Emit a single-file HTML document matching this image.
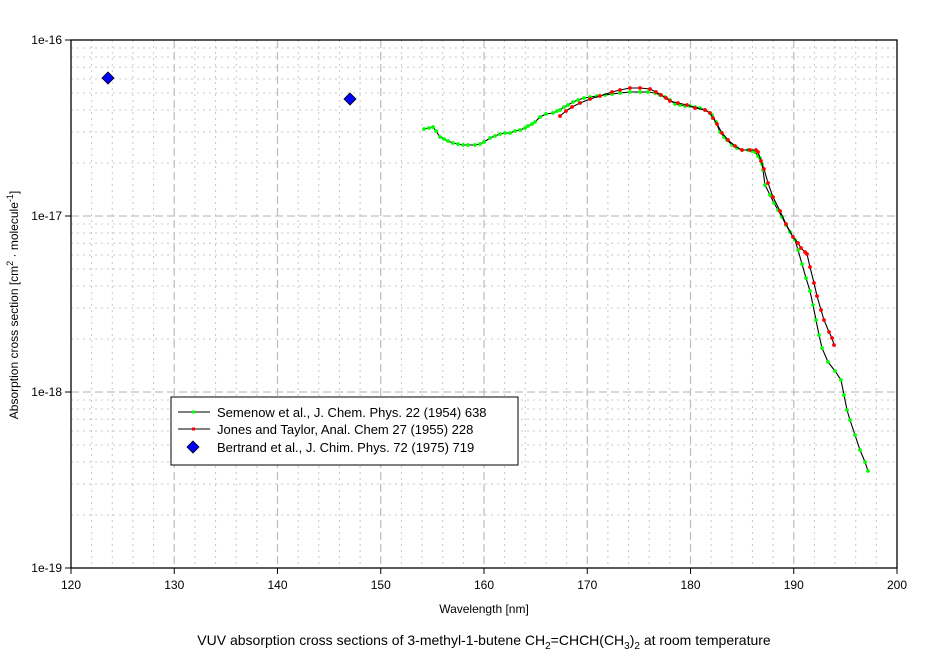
<!DOCTYPE html>
<html><head><meta charset="utf-8"><style>
body{margin:0;background:#fff;}
svg{display:block;font-family:"Liberation Sans",Arial,sans-serif;}
</style></head><body>
<svg id="s" width="937" height="659" viewBox="0 0 937 659" xmlns="http://www.w3.org/2000/svg">
<g id="grid"></g>
<rect x="71" y="40" width="826" height="528" fill="none" stroke="#000" stroke-width="1.3"/>
<g id="ticks" font-size="12" fill="#000"></g>
<g id="data"></g>
<polygon points="108,72 114,78 108,84 102,78" fill="#0000ff" stroke="#000" stroke-width="0.8"/>
<polygon points="350,93 356,99 350,105 344,99" fill="#0000ff" stroke="#000" stroke-width="0.8"/>
<rect x="171" y="397" width="347" height="68" fill="#fff" stroke="#000" stroke-width="1"/>
<line x1="178" y1="412" x2="210" y2="412" stroke="#000"/><rect x="192" y="410.5" width="3" height="3" fill="#00ff00"/>
<line x1="178" y1="429" x2="210" y2="429" stroke="#000"/><rect x="192" y="427.5" width="3" height="3" fill="#ff0000"/>
<polygon points="193,441 199,447 193,453 187,447" fill="#0000ff" stroke="#000" stroke-width="0.8"/>
<g font-size="13">
<text x="217" y="417">Semenow et al., J. Chem. Phys. 22 (1954) 638</text>
<text x="217" y="434">Jones and Taylor, Anal. Chem 27 (1955) 228</text>
<text x="217" y="452">Bertrand et al., J. Chim. Phys. 72 (1975) 719</text>
</g>
<text x="484" y="613" font-size="12" text-anchor="middle">Wavelength [nm]</text>
<text x="484" y="645" font-size="14" text-anchor="middle">VUV absorption cross sections of 3-methyl-1-butene CH<tspan font-size="10" dy="4">2</tspan><tspan dy="-4">=CHCH(CH</tspan><tspan font-size="10" dy="4">3</tspan><tspan dy="-4">)</tspan><tspan font-size="10" dy="4">2</tspan><tspan dy="-4"> at room temperature</tspan></text>
<text transform="translate(18,305) rotate(-90)" font-size="12" text-anchor="middle">Absorption cross section [cm<tspan font-size="9" dy="-5">2</tspan><tspan dy="5"> · molecule</tspan><tspan font-size="9" dy="-5">-1</tspan><tspan dy="5">]</tspan></text>
</svg>
<script>
const NS="http://www.w3.org/2000/svg";
function el(p,t,a,txt){const e=document.createElementNS(NS,t);for(const k in a)e.setAttribute(k,a[k]);if(txt!==undefined)e.textContent=txt;p.appendChild(e);return e;}
const g=document.getElementById('grid'),tk=document.getElementById('ticks'),d=document.getElementById('data');
const X=v=>71+(v-120)*826/80, Y0=40, D=176;
for(let v=122;v<200;v+=2){const x=X(v);const maj=v%10==0;
 el(g,'line',{x1:x,y1:40,x2:x,y2:568,stroke:maj?'#c0c0c0':'#c8c8c8','stroke-width':maj?1.3:1,'stroke-dasharray':maj?'8,4':'2,4'});}
for(let dec=0;dec<3;dec++){for(let m=1;m<=9;m++){const y=Y0+D*(dec+1)-D*Math.log10(m);if(m==1&&dec==2)continue;
 const maj=m==1;if(maj&&dec<0)continue;
 el(g,'line',{x1:71,y1:y,x2:897,y2:y,stroke:maj?'#c0c0c0':'#c8c8c8','stroke-width':maj?1.3:1,'stroke-dasharray':maj?'8,4':'2,4'});}}
for(let v=120;v<=200;v+=10){const x=X(v);el(tk,'line',{x1:x,y1:568,x2:x,y2:574,stroke:'#000'});el(tk,'text',{x:x,y:589,'text-anchor':'middle'},v);}
['1e-16','1e-17','1e-18','1e-19'].forEach((l,i)=>{const y=Y0+D*i;el(tk,'line',{x1:65,y1:y,x2:71,y2:y,stroke:'#000'});el(tk,'text',{x:62,y:y+4,'text-anchor':'end'},l);});
const green=[[424,129],[429,128],[433,127],[436,131],[440,137],[444,139],[448,141],[453,143],[458,144],[463,145],[468,145],[475,145],[480,144],[484,142],[490,138],[495,136],[500,134],[505,133],[510,133],[515,131],[520,130],[525,128],[528,126],[532,124],[535,122],[540,117],[546,114],[553,113],[557,111],[560,110],[564,107],[568,105],[573,102],[578,100],[584,98],[590,97],[597,96],[605,95],[612,94],[620,93],[630,92],[640,92],[648,92],[655,93],[660,95],[665,97],[670,100],[675,104],[680,105],[685,106],[690,106],[695,107],[700,108],[705,110],[710,113],[712,115],[716,122],[720,132],[724,137],[727,140],[732,145],[737,148],[742,150],[748,150],[752,151],[755,152],[758,156],[760,158],[762,164],[763,170],[765,185],[770,195],[774,203],[778,210],[782,217],[786,225],[790,232],[795,240],[798,250],[802,264],[806,278],[810,291],[813,305],[816,320],[819,335],[822,348],[828,362],[835,371],[841,380],[844,395],[847,410],[850,420],[855,435],[860,450],[865,462],[868,471]];
const red=[[560,116],[566,111],[572,107],[580,103],[590,99],[600,96],[612,92],[620,90],[630,88],[640,88],[650,89],[656,92],[661,95],[666,98],[670,101],[678,103],[687,105],[695,108],[705,110],[710,113],[713,118],[717,124],[722,133],[728,140],[735,146],[742,150],[750,150],[756,150],[758,152],[761,161],[764,169],[768,183],[773,197],[780,211],[786,224],[793,237],[798,243],[801,248],[805,252],[807,254],[810,267],[814,283],[817,296],[821,310],[824,320],[829,332],[832,338],[834,345]];
function series(pts,col){el(d,'polyline',{points:pts.map(p=>p.join(',')).join(' '),fill:'none',stroke:'#000','stroke-width':1.1});
 pts.forEach(p=>el(d,'circle',{cx:p[0],cy:p[1],r:1.9,fill:col}));}
series(green,'#00ff00');series(red,'#ff0000');
</script>
</body></html>
